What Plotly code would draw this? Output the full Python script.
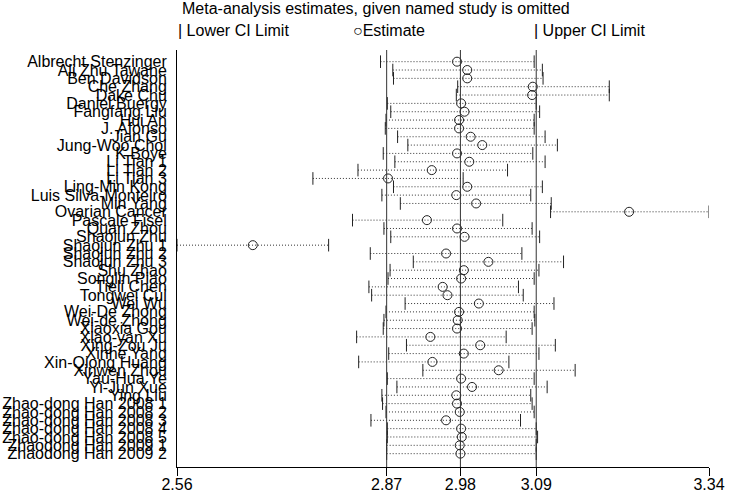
import plotly.graph_objects as go

# Influence analysis data (one row per omitted study)
studies = ["Albrecht Stenzinger", "Ali Zhu Tawane", "Ben Davidson", "Che Zhang", "Dake Chu",
           "Daniel Buergy", "Fangfang Liu", "Hui An", "J. Afonso", "Jian Gu", "Jung-Woo Choi",
           "K Boye", "Li Tian 1", "Li Tian 2", "Li Tian 3", "Ling-Min Kong", "Luis Silva-Monteiro",
           "Min Yang", "Ovarian Cancer", "Pascale Fisel", "Quan Zhou", "Shaojun Zhu",
           "Shaojun Zhu 1", "Shaojun Zhu 2", "Shaojun Zhu 3", "Shu Zhao", "Songlin Piao",
           "Tieli Chen", "Tongwei Cui", "Wei Wu", "Wei-De Zhong", "Wei-de Zhong", "Xiaoxia Gou",
           "Xiao-yan Xu", "Xing-Zou Ju", "Xinhe Yang", "Xin-Qiong Huang", "Xinwen Zhou",
           "Yau-Hua Ye", "Yi-Jun Xue", "Ying Liu", "Zhao-dong Han 2008 1", "Zhao-dong Han 2008 2",
           "Zhao-dong Han 2008 3", "Zhao-dong Han 2008 4", "Zhao-dong Han 2008 5",
           "Zhaodong Han 2009 1", "Zhaodong Han 2009 2"]

lower = [2.858, 2.876, 2.877, 2.971, 2.969, 2.868, 2.873, 2.866, 2.865, 2.883,
         2.898, 2.862, 2.879, 2.825, 2.759, 2.877, 2.860, 2.887, 3.107, 2.817,
         2.863, 2.873, 2.560, 2.843, 2.906, 2.872, 2.869, 2.841, 2.845, 2.894,
         2.866, 2.863, 2.862, 2.823, 2.896, 2.870, 2.826, 2.920, 2.868, 2.882,
         2.860, 2.861, 2.866, 2.844, 2.868, 2.868, 2.867, 2.867]

estimate = [2.970, 2.985, 2.985, 3.081, 3.080, 2.976, 2.981, 2.973, 2.973, 2.990,
            3.007, 2.970, 2.988, 2.933, 2.869, 2.985, 2.969, 2.998, 3.222, 2.926,
            2.970, 2.981, 2.671, 2.954, 3.016, 2.980, 2.976, 2.949, 2.956, 3.002,
            2.973, 2.971, 2.970, 2.931, 3.004, 2.980, 2.934, 3.031, 2.976, 2.992,
            2.969, 2.970, 2.974, 2.954, 2.976, 2.977, 2.974, 2.975]

upper = [3.083, 3.095, 3.096, 3.193, 3.193, 3.086, 3.091, 3.083, 3.083, 3.099,
         3.117, 3.081, 3.099, 3.044, 2.979, 3.095, 3.078, 3.108, 3.339, 3.037,
         3.080, 3.091, 2.782, 3.065, 3.126, 3.090, 3.083, 3.060, 3.067, 3.112,
         3.083, 3.084, 3.080, 3.042, 3.114, 3.090, 3.046, 3.143, 3.083, 3.102,
         3.078, 3.080, 3.083, 3.063, 3.086, 3.088, 3.086, 3.086]

# pooled estimate with all studies: lower CI, estimate, upper CI
overall = [2.867, 2.975, 3.086]

FONT = "Liberation Sans, Arial, sans-serif"
ink = "#222222"

W, H = 729, 492
ML, MR, MT, MB = 177, 20, 50, 25

rows = list(range(1, len(studies) + 1))

# dotted CI lines, one segment per study
line_x, line_y = [], []
for lo, hi, r in zip(lower, upper, rows):
    line_x += [lo, hi, None]
    line_y += [r, r, None]

data = [
    go.Scatter(x=line_x, y=line_y, mode="lines",
               line=dict(color="#333333", width=1, dash="1px,2px"), hoverinfo="skip"),
    go.Scatter(x=lower, y=rows, mode="markers",
               marker=dict(symbol="line-ns-open", size=9, color=ink, line=dict(color=ink, width=1))),
    go.Scatter(x=upper, y=rows, mode="markers",
               marker=dict(symbol="line-ns-open", size=9, color=ink, line=dict(color=ink, width=1))),
    go.Scatter(x=estimate, y=rows, mode="markers", text=studies,
               marker=dict(symbol="circle-open", size=9, color=ink, line=dict(color=ink, width=1))),
]

xmin, xmax = min(lower), max(upper)
tick_vals = [xmin] + overall + [xmax]
tick_text = ["%.2f" % v for v in tick_vals]

layout = go.Layout(
    width=W, height=H, showlegend=False,
    paper_bgcolor="white", plot_bgcolor="white",
    margin=dict(l=ML, r=MR, t=MT, b=MB),
    font=dict(family=FONT, size=16, color="black"),
    xaxis=dict(range=[xmin, xmax], tickvals=tick_vals, ticktext=tick_text,
               showgrid=False, zeroline=False, showline=True, linecolor="black", linewidth=1,
               ticks="outside", ticklen=8, tickcolor="black", tickwidth=1,
               ticklabelstandoff=-5, tickfont=dict(size=16), automargin=False),
    yaxis=dict(range=[len(studies) + 1.6, -0.4], tickvals=rows, ticktext=studies,
               showgrid=False, zeroline=False, showline=True, linecolor="black", linewidth=1,
               ticks="", ticklabelstandoff=6, tickfont=dict(size=16), automargin=False),
)

fig = go.Figure(data=data, layout=layout)

# overall CI and estimate reference lines
for v in overall:
    fig.add_shape(type="line", x0=v, x1=v, y0=0, y1=1, xref="x", yref="paper",
                  line=dict(color="#333333", width=1))

# title and legend texts (pixel positions converted to paper coords)
title_items = [
    ("Meta-analysis estimates, given named study is omitted", 180, 9),
    ("| Lower CI Limit", 176, 30),
    ("\u25CBEstimate", 351, 30),
    ("| Upper CI Limit", 532, 30),
]
plot_w = W - ML - MR
plot_h = H - MT - MB
for txt, px, py in title_items:
    fig.add_annotation(text=txt, xref="paper", yref="paper",
                       x=(px - ML) / plot_w, y=(H - MB - py) / plot_h,
                       xanchor="left", yanchor="middle", showarrow=False,
                       font=dict(family=FONT, size=16, color="black"))

fig.write_html("out.html", config=dict(displayModeBar=False),
               post_script="document.body.style.margin='0';")
